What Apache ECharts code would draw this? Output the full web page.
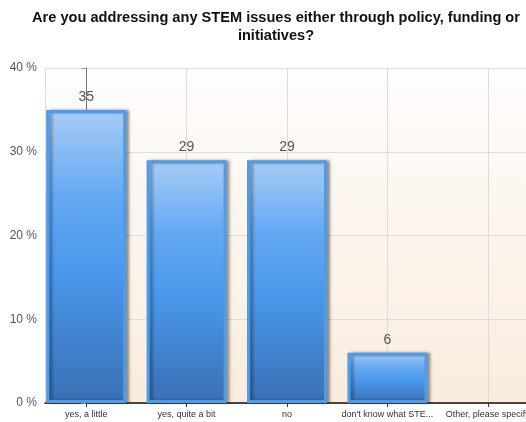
<!DOCTYPE html>
<html>
<head>
<meta charset="utf-8">
<script src="https://cdn.jsdelivr.net/npm/echarts@6/dist/echarts.min.js"></script>
<style>
  html, body { margin: 0; padding: 0; background: #ffffff; }
  #chart { width: 526px; height: 422px; }
</style>
</head>
<body>
<div id="chart"></div>
<script>
// Survey answers and the share (%) of respondents for each
var categories = ['yes, a little', 'yes, quite a bit', 'no', 'don\'t know what STE...', 'Other, please specify'];
var percentages = [35, 29, 29, 6, 0];
var yTicks = [0, 10, 20, 30, 40];

var chart = echarts.init(document.getElementById('chart'));

// Bars sit on a numeric x scale so the first category can start right at the y axis;
// an answer with 0 % gets no visible bar
var barData = percentages.map(function (v, i) {
  var item = { value: [i, v] };
  if (v === 0) {
    item.itemStyle = { opacity: 0, borderWidth: 0, shadowColor: 'transparent' };
  }
  return item;
});

chart.setOption({
  animation: false,
  title: {
    text: 'Are you addressing any STEM issues either through policy, funding or\ninitiatives?',
    left: 271,
    top: 4,
    textAlign: 'center',
    textStyle: {
      fontFamily: 'Liberation Sans, Arial, sans-serif',
      fontSize: 14.6,
      fontWeight: 'bold',
      color: '#111',
      lineHeight: 18
    }
  },
  grid: {
    left: 45,
    right: -3,
    top: 68,
    bottom: 19,
    outerBoundsMode: 'none',
    containLabel: false,
    show: true,
    borderWidth: 0,
    backgroundColor: new echarts.graphic.LinearGradient(0, 0, 0, 1, [
      { offset: 0, color: '#fefdfc' },
      { offset: 1, color: '#faecdd' }
    ])
  },
  xAxis: {
    type: 'value',
    min: -0.41,
    max: categories.length - 1 + 0.41,
    splitNumber: 5,
    axisLine: { show: true, onZero: true, lineStyle: { color: '#111', width: 1.5 } },
    axisTick: { show: true, length: 4, lineStyle: { color: '#333' } },
    splitLine: { show: true, lineStyle: { color: '#dcdcdc', width: 1 } },
    axisLabel: {
      fontFamily: 'Liberation Sans, Arial, sans-serif',
      fontSize: 9,
      color: '#333',
      margin: 7,
      showMinLabel: false,
      showMaxLabel: false,
      formatter: function (v) {
        return Number.isInteger(v) && categories[v] !== undefined ? categories[v] : '';
      }
    }
  },
  yAxis: {
    type: 'value',
    min: yTicks[0],
    max: yTicks[yTicks.length - 1],
    interval: 10,
    axisLine: { show: true, lineStyle: { color: '#777', width: 1 } },
    axisTick: { show: true, length: 5, lineStyle: { color: '#999' } },
    splitLine: { show: true, lineStyle: { color: '#dedede', width: 1 } },
    axisLabel: {
      fontFamily: 'Liberation Sans, Arial, sans-serif',
      fontSize: 12,
      color: '#555',
      margin: 8,
      formatter: '{value} %'
    }
  },
  series: [{
    type: 'bar',
    data: barData,
    barWidth: 80,
    itemStyle: {
      color: new echarts.graphic.LinearGradient(0, 0, 0, 1, [
        { offset: 0, color: '#a8ccf6' },
        { offset: 0.3, color: '#64a8f2' },
        { offset: 0.55, color: '#4a98ec' },
        { offset: 1, color: '#3a70b4' }
      ]),
      borderColor: '#4d9cec',
      borderWidth: 3,
      shadowColor: 'rgba(0,0,0,0.35)',
      shadowBlur: 3,
      shadowOffsetX: 3,
      shadowOffsetY: 0
    },
    label: {
      show: true,
      position: 'top',
      distance: 6,
      fontFamily: 'Liberation Sans, Arial, sans-serif',
      fontSize: 14,
      color: '#555',
      formatter: function (p) { return p.value[1] > 0 ? String(p.value[1]) : ''; }
    }
  }]
});
</script>
</body>
</html>
